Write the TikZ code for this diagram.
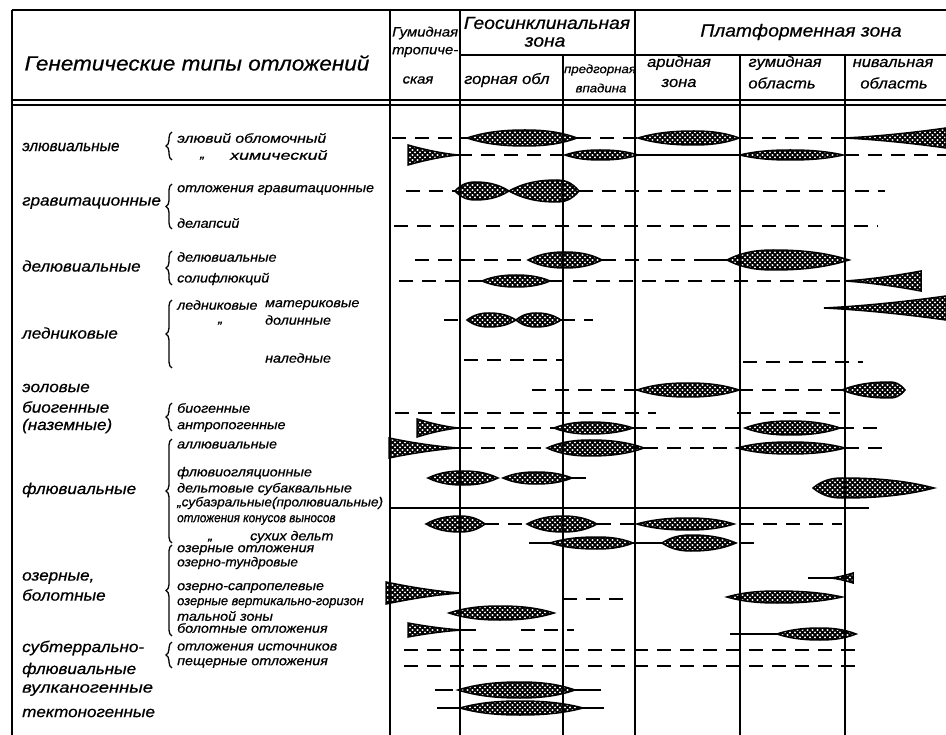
\documentclass[tikz,border=0pt]{standalone}
\usepackage{fontspec}
\setmainfont{Liberation Sans}[UprightFont=* Italic, ItalicFont=* Italic, BoldFont=* Bold Italic, FakeStretch=1.1, FakeBold=0.6]
\usetikzlibrary{patterns,decorations.pathreplacing}
\pgfdeclarepatternformonly{mesh}{\pgfqpoint{-1pt}{-1pt}}{\pgfqpoint{6pt}{6pt}}{\pgfqpoint{5pt}{5pt}}{%
 \pgfsetlinewidth{1.5pt}%
 \pgfpathmoveto{\pgfqpoint{-1pt}{-1pt}}\pgfpathlineto{\pgfqpoint{6pt}{6pt}}%
 \pgfpathmoveto{\pgfqpoint{-1pt}{6pt}}\pgfpathlineto{\pgfqpoint{6pt}{-1pt}}%
 \pgfusepath{stroke}}
\newcommand\ttlfont{\fontsize{20.5}{23}\selectfont}
\newcommand\mainlab{\fontsize{15.5}{17}\selectfont}
\newcommand\sublab{\fontsize{13}{14}\selectfont}
\newcommand\grpfont{\fontsize{17.5}{19}\selectfont}
\newcommand\hdrfont{\fontsize{15}{16}\selectfont}
\tikzset{
 frame/.style={line width=1.8pt},
 colline/.style={line width=1.3pt},
 dsh/.style={line width=1.7pt, dash pattern=on 14pt off 9pt},
 sol/.style={line width=1.7pt},
 lensst/.style={draw, line width=1.5pt, pattern=mesh, pattern color=black},
 brc/.style={decorate, decoration={brace, amplitude=6pt}, line width=1.3pt},
 lab/.style={anchor=west, inner sep=0pt, font=\mainlab},
 sub/.style={anchor=west, inner sep=0pt, font=\sublab},
 ditto/.style={anchor=base west, inner sep=0pt, font=\sublab},
 hdr/.style={inner sep=0pt, font=\hdrfont},
 grp/.style={inner sep=0pt, font=\grpfont},
}
\newcommand\lensx[5]{\path[lensst] (#1,#4) .. controls ({#1+0.35*(#2-#1)},{#4-0.85*#5}) and ({#2-0.3*(#2-#1)},{#4-#5}) .. (#2,{#4-#5}) .. controls ({#2+0.3*(#3-#2)},{#4-#5}) and ({#3-0.35*(#3-#2)},{#4-0.85*#5}) .. (#3,#4) .. controls ({#3-0.35*(#3-#2)},{#4+0.85*#5}) and ({#2+0.3*(#3-#2)},{#4+#5}) .. (#2,{#4+#5}) .. controls ({#2-0.3*(#2-#1)},{#4+#5}) and ({#1+0.35*(#2-#1)},{#4+0.85*#5}) .. cycle;}
\newcommand\wedgex[4]{\path[lensst] (#1,{#3-#4}) .. controls ({#1+0.35*(#2-#1)},{#3-0.5*#4}) and ({#1+0.7*(#2-#1)},{#3-0.15*#4}) .. (#2,#3) .. controls ({#1+0.7*(#2-#1)},{#3+0.15*#4}) and ({#1+0.35*(#2-#1)},{#3+0.5*#4}) .. (#1,{#3+#4}) -- cycle;}
\newcommand\dl[3]{\draw[dsh] (#1,#3) -- (#2,#3);}
\newcommand\sld[3]{\draw[sol] (#1,#3) -- (#2,#3);}
\begin{document}
\begin{tikzpicture}[x=1pt,y=-1pt]
\useasboundingbox (0,0) rectangle (946,735);
\fill[white] (0,0) rectangle (946,735);
% frame and columns
\draw[frame] (12,10) -- (946,10);
\draw[frame] (12,10) -- (12,735);
\draw[colline] (460,55) -- (946,55);
\draw[frame] (12,100) -- (946,100);
\draw[frame] (12,105) -- (946,105);
\foreach \cx in {390,460,635} \draw[colline] (\cx,10) -- (\cx,735);
\foreach \cx in {563,740,845} \draw[colline] (\cx,55) -- (\cx,735);
\draw[colline] (390,508) -- (869,508);
% header
\node[font=\ttlfont, inner sep=0pt] (title) at (197,63) {Генетические типы отложений};
\node[hdr, font=\fontsize{13.5}{14}\selectfont, anchor=west] (h1) at (392,33) {Гумидная};
\node[hdr, font=\fontsize{13.5}{14}\selectfont, anchor=west] (h2) at (392,52) {тропиче-};
\node[hdr, font=\fontsize{13.5}{14}\selectfont] (h3) at (418,80) {ская};
\node[grp] (g1) at (547,23) {Геосинклинальная};
\node[grp] (g2) at (545,42) {зона};
\node[grp] (g3) at (801,32) {Платформенная зона};
\node[hdr, anchor=west] (c1) at (464,80) {горная обл};
\node[hdr, font=\fontsize{12}{13}\selectfont] (c2) at (600,70) {предгорная};
\node[hdr, font=\fontsize{12}{13}\selectfont] (c3) at (601,88) {впадина};
\node[hdr] (c4) at (679,63) {аридная};
\node[hdr] (c5) at (679,83) {зона};
\node[hdr] (c6) at (785,63) {гумидная};
\node[hdr] (c7) at (782,83) {область};
\node[hdr] (c8) at (893,63) {нивальная};
\node[hdr] (c9) at (894,83) {область};
% main labels
\node[lab] (m1) at (22,147) {\scalebox{0.9}[1]{элювиальные}};
\node[lab] (m2) at (22,203) {гравитационные};
\node[lab] (m3) at (22,266) {делювиальные};
\node[lab] (m4) at (22,333) {ледниковые};
\node[lab] (m5) at (22,388) {эоловые};
\node[lab] (m6) at (22,407) {биогенные};
\node[lab] (m7) at (22,426) {(наземные)};
\node[lab] (m8) at (22,490) {флювиальные};
\node[lab] (m9) at (22,578) {озерные,};
\node[lab] (m10) at (22,595) {болотные};
\node[lab] (m11) at (22,648) {субтеррально-};
\node[lab] (m12) at (22,670) {флювиальные};
\node[lab] (m13) at (22,690) {\scalebox{1.08}[1]{вулканогенные}};
\node[lab] (m14) at (22,713) {тектоногенные};
% braces
\draw[brc] (172,160) -- (172,132);
\draw[brc] (172,229) -- (172,184);
\draw[brc] (172,285) -- (172,251);
\draw[brc] (172,368) -- (172,300);
\draw[brc] (172,431) -- (172,403);
\draw[brc] (172,543) -- (172,439);
\draw[brc] (172,636) -- (172,545);
\draw[brc] (172,668) -- (172,642);
% sub labels
\node[sub] (s1) at (177,138) {\scalebox{1.1}[1]{элювий обломочный}};
\node[ditto] (s2a) at (200,158) {„};
\node[sub] (s2) at (230,155) {\scalebox{1.25}[1]{химический}};
\node[sub] (s3) at (177,190) {отложения гравитационные};
\node[sub] (s4) at (177,223) {делапсий};
\node[sub] (s5) at (177,257) {делювиальные};
\node[sub] (s6) at (177,279) {солифлюкций};
\node[sub] (s7) at (177,305) {ледниковые};
\node[sub] (s7b) at (265,305) {материковые};
\node[ditto] (s8a) at (218,323) {„};
\node[sub] (s8) at (265,320) {долинные};
\node[sub] (s9) at (265,358) {наледные};
\node[sub] (s10) at (177,408) {биогенные};
\node[sub] (s11) at (177,427) {антропогенные};
\node[sub] (s12) at (177,445) {аллювиальные};
\node[sub] (s13) at (177,473) {флювиогляционные};
\node[sub] (s14) at (177,489) {дельтовые субаквальные};
\node[sub] (s15) at (177,503) {\scalebox{0.95}[1]{„субаэральные(пролювиальные)}};
\node[sub] (s16) at (177,520) {\scalebox{0.82}[1]{отложения конусов выносов}};
\node[ditto] (s17a) at (208,540) {„};
\node[sub] (s17) at (250,537) {сухих дельт};
\node[sub] (s18) at (177,550) {озерные отложения};
\node[sub] (s19) at (177,563) {\scalebox{0.95}[1]{озерно-тундровые}};
\node[sub] (s20) at (177,588) {озерно-сапропелевые};
\node[sub] (s21) at (177,603) {\scalebox{0.9}[1]{озерные вертикально-горизон}};
\node[sub] (s22) at (177,616) {тальной зоны};
\node[sub] (s23) at (177,628) {болотные отложения};
\node[sub] (s24) at (177,647) {отложения источников};
\node[sub] (s25) at (177,663) {пещерные отложения};
% row 1
\dl{392}{467}{138} \lensx{467}{525}{577}{138}{8} \dl{577}{638}{138} \lensx{638}{694}{739}{138}{7} \dl{739}{845}{138} \wedgex{946}{845}{138}{10}
% row 2
\wedgex{408}{458}{155}{10} \dl{458}{565}{155} \lensx{565}{600}{638}{155}{5} \sld{638}{740}{155} \lensx{740}{790}{843}{155}{5} \dl{845}{946}{155}
% row 3
\dl{406}{455}{191} \lensx{455}{475}{509}{191}{9} \lensx{509}{557}{579}{191}{11} \dl{579}{885}{191}
% row 4
\dl{394}{878}{226}
% row 5
\dl{415}{528}{260} \lensx{528}{565}{602}{260}{8} \dl{602}{698}{260} \sld{698}{727}{260} \lensx{727}{773}{849}{260}{10}
% row 6
\dl{399}{482}{281} \lensx{482}{516}{550}{281}{6} \dl{550}{845}{281} \wedgex{921}{845}{281}{10}
% row 7
\wedgex{946}{824}{308}{12}
% row 8
\dl{444}{467}{320} \lensx{467}{489}{516}{320}{7} \lensx{516}{536}{561}{320}{7} \dl{561}{593}{320}
% row 9
\dl{464}{563}{360} \dl{743}{863}{362}
% row 10
\dl{532}{637}{390} \lensx{637}{688}{739}{390}{7} \dl{739}{842}{390} \lensx{842}{890}{905}{390}{8}
% row 11
\dl{395}{656}{413} \dl{737}{840}{413}
% row 12
\wedgex{417}{458}{428}{9} \dl{458}{554}{428} \lensx{554}{590}{633}{428}{6} \dl{633}{745}{428} \lensx{745}{790}{840}{428}{7} \dl{840}{881}{428}
% row 13
\wedgex{389}{458}{448}{10} \dl{458}{547}{448} \lensx{547}{590}{644}{448}{8} \dl{644}{737}{448} \lensx{737}{790}{845}{448}{6} \dl{845}{883}{448}
% row 14
\lensx{428}{463}{498}{478}{7} \lensx{503}{536}{572}{478}{6} \dl{572}{588}{478} \lensx{813}{842}{934}{488}{10}
% row 15
\lensx{426}{460}{485}{524}{8} \dl{485}{527}{524} \lensx{527}{563}{597}{524}{8} \dl{597}{637}{524} \lensx{637}{688}{734}{524}{6} \dl{740}{842}{524}
% row 16
\sld{529}{550}{543} \lensx{550}{597}{633}{543}{6} \sld{633}{662}{543} \lensx{662}{691}{736}{543}{8} \dl{740}{759}{543}
% row 17
\sld{808}{831}{578} \wedgex{853}{831}{578}{5}
% row 18
\wedgex{386}{460}{593}{11} \dl{563}{631}{599} \lensx{727}{777}{842}{597}{6}
% row 19
\lensx{449}{500}{554}{613}{7}
% row 20
\wedgex{408}{462}{630}{7} \dl{462}{482}{630} \dl{521}{574}{630} \sld{730}{777}{634} \lensx{777}{820}{856}{634}{6}
% rows 21-22
\dl{404}{856}{650} \dl{404}{856}{666}
% row 23
\sld{435}{453}{690} \lensx{458}{520}{575}{690}{8} \sld{575}{601}{690}
% row 24
\sld{437}{460}{708} \lensx{460}{520}{583}{708}{7} \sld{583}{604}{708}
\end{tikzpicture}
\end{document}
